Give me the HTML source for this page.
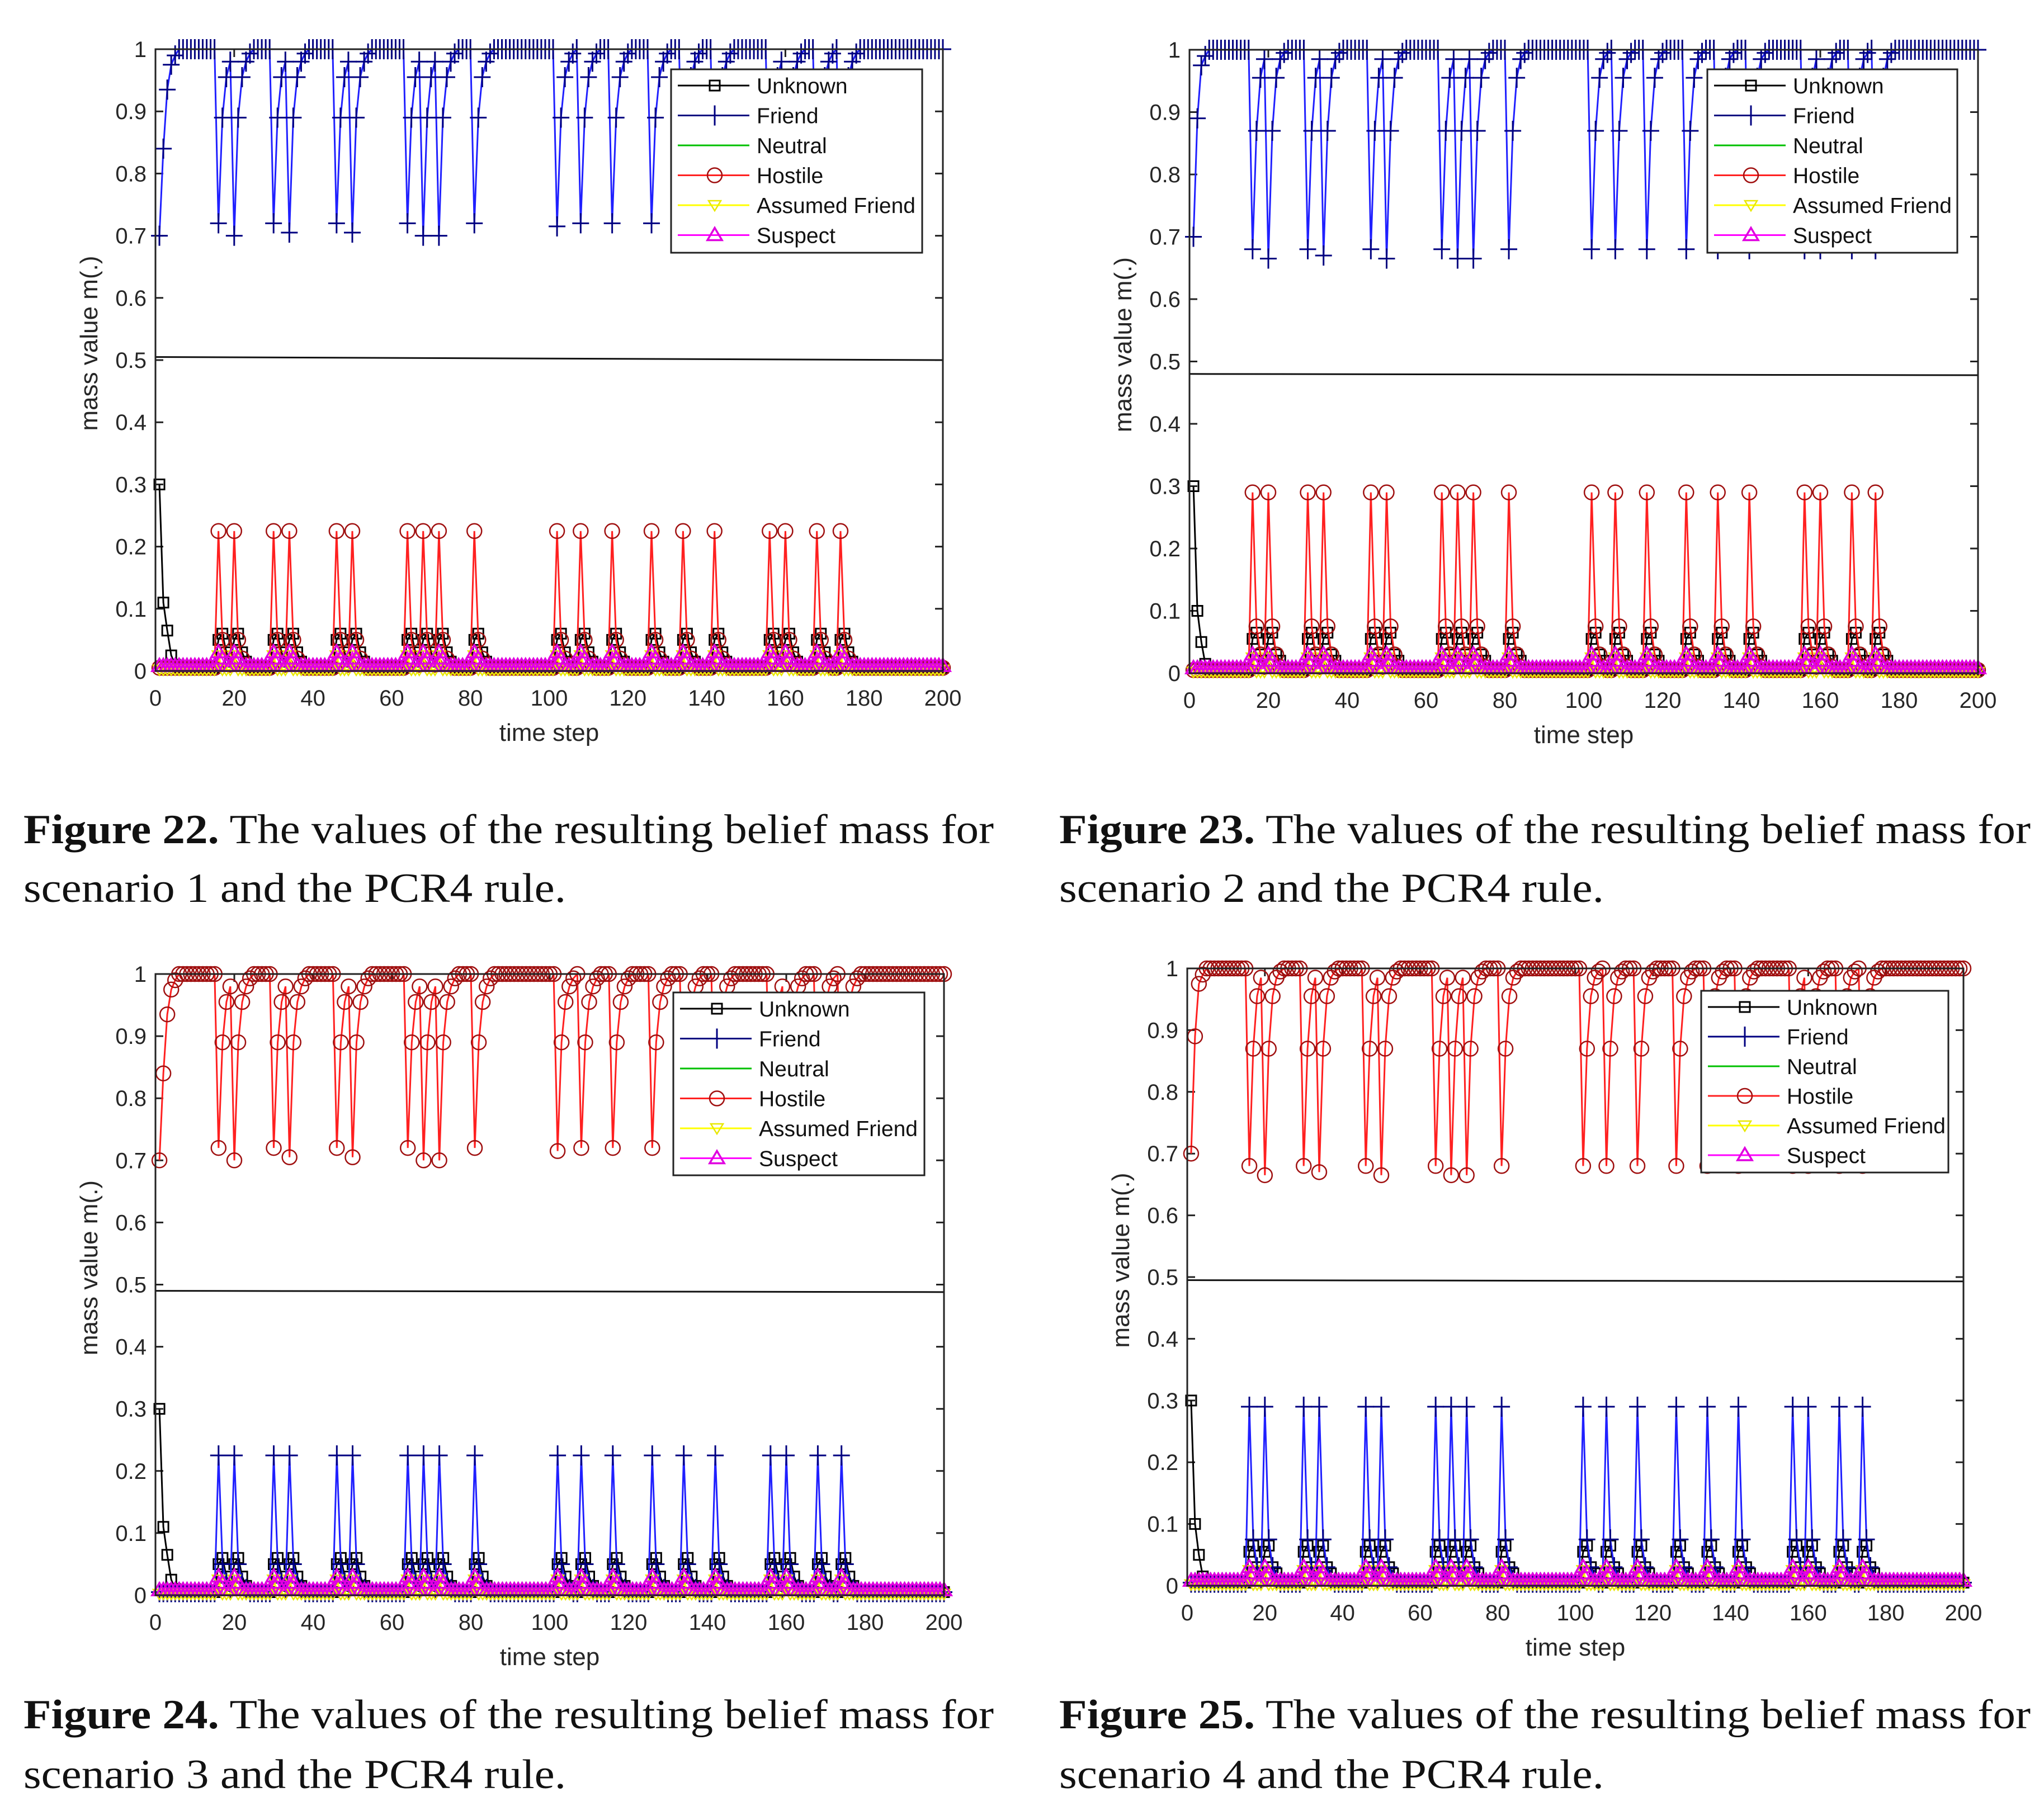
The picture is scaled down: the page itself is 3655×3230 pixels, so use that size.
<!DOCTYPE html>
<html><head><meta charset="utf-8">
<style>
html,body{margin:0;padding:0;background:#fff;}
svg{display:block;}
.tick{font-family:"Liberation Sans",sans-serif;font-size:40px;fill:#262626;}
.lab{font-family:"Liberation Sans",sans-serif;font-size:44px;fill:#262626;}
.leg{font-family:"Liberation Sans",sans-serif;font-size:39px;fill:#111;}
.cap{font-family:"Liberation Serif",serif;font-size:74px;fill:#111;}
</style></head>
<body>
<svg id="root" xmlns="http://www.w3.org/2000/svg" width="3655" height="3230" viewBox="0 0 3655 3230">
<rect width="3655" height="3230" fill="#fff"/>
<g>
<text class="cap" x="42" y="1508" textLength="1735" lengthAdjust="spacingAndGlyphs"><tspan font-weight="bold">Figure 22.</tspan> The values of the resulting belief mass for</text>
<text class="cap" x="42" y="1613" textLength="970" lengthAdjust="spacingAndGlyphs">scenario 1 and the PCR4 rule.</text></g>
<g>
<text class="cap" x="1894" y="1508" textLength="1737" lengthAdjust="spacingAndGlyphs"><tspan font-weight="bold">Figure 23.</tspan> The values of the resulting belief mass for</text>
<text class="cap" x="1894" y="1613" textLength="974" lengthAdjust="spacingAndGlyphs">scenario 2 and the PCR4 rule.</text></g>
<g>
<text class="cap" x="42" y="3091" textLength="1735" lengthAdjust="spacingAndGlyphs"><tspan font-weight="bold">Figure 24.</tspan> The values of the resulting belief mass for</text>
<text class="cap" x="42" y="3198" textLength="970" lengthAdjust="spacingAndGlyphs">scenario 3 and the PCR4 rule.</text></g>
<g>
<text class="cap" x="1894" y="3091" textLength="1737" lengthAdjust="spacingAndGlyphs"><tspan font-weight="bold">Figure 25.</tspan> The values of the resulting belief mass for</text>
<text class="cap" x="1894" y="3198" textLength="974" lengthAdjust="spacingAndGlyphs">scenario 4 and the PCR4 rule.</text></g>
</svg>
<script>
// ---- data ----
const xTicks=[0,20,40,60,80,100,120,140,160,180,200];
const yTicks=[0,0.1,0.2,0.3,0.4,0.5,0.6,0.7,0.8,0.9,1];
const yTickLabels=["0","0.1","0.2","0.3","0.4","0.5","0.6","0.7","0.8","0.9","1"];
const seriesNames=["Unknown","Friend","Neutral","Hostile","Assumed Friend","Suspect"];
const eventTimes=[16,20,30,34,46,50,64,68,72,81,102,108,116,126,134,142,156,160,168,174];
// scenario 1 (friend dominant)
const s1MainStart=[0.70,0.84,0.935,0.975,0.99];
const s1MainDip=[0.72,0.70,0.72,0.705,0.72,0.705,0.72,0.70,0.70,0.72,0.715,0.72,0.72,0.72,0.72,0.72,0.72,0.72,0.72,0.72];
const s1MainRecover=[0.89,0.955,0.98,0.993];
const s1Peak=[0.225,0.05,0.02,0.01];
const s1UnknownStart=[0.30,0.11,0.065,0.025,0.01];
const s1UnknownEvent=[0.05,0.06,0.03,0.015];
const s1Level=[0.505,0.5];
// scenario 2
const s2MainStart=[0.70,0.89,0.975,0.99];
const s2MainDip=[0.68,0.665,0.68,0.67,0.68,0.665,0.68,0.665,0.665,0.68,0.68,0.68,0.68,0.68,0.68,0.68,0.68,0.68,0.68,0.68];
const s2MainRecover=[0.87,0.955,0.985,0.995];
const s2Peak=[0.29,0.075,0.03,0.01];
const s2UnknownStart=[0.30,0.10,0.05,0.015];
const s2UnknownEvent=[0.055,0.065,0.03,0.02];
const s2Level=[0.48,0.478];
// scenario 3 (hostile dominant)
const s3MainStart=[0.70,0.84,0.935,0.975,0.99];
const s3MainDip=[0.72,0.70,0.72,0.705,0.72,0.705,0.72,0.70,0.70,0.72,0.715,0.72,0.72,0.72,0.72,0.72,0.72,0.72,0.72,0.72];
const s3MainRecover=[0.89,0.955,0.98,0.993];
const s3Peak=[0.225,0.05,0.02,0.01];
const s3UnknownStart=[0.30,0.11,0.065,0.025,0.01];
const s3UnknownEvent=[0.05,0.06,0.03,0.015];
const s3Level=[0.49,0.488];
// scenario 4
const s4MainStart=[0.70,0.89,0.975,0.99];
const s4MainDip=[0.68,0.665,0.68,0.67,0.68,0.665,0.68,0.665,0.665,0.68,0.68,0.68,0.68,0.68,0.68,0.68,0.68,0.68,0.68,0.68];
const s4MainRecover=[0.87,0.955,0.985,0.995];
const s4Peak=[0.29,0.075,0.03,0.01];
const s4UnknownStart=[0.30,0.10,0.05,0.015];
const s4UnknownEvent=[0.055,0.065,0.03,0.02];
const s4Level=[0.495,0.493];
const suspectBase=[0.008];
const suspectBump=[0.03,0.02];
const afBase=[0.002];
const afBump=[0.025];

const NS="http://www.w3.org/2000/svg";
const root=document.getElementById('root');
function mk(tag,attrs,parent){const e=document.createElementNS(NS,tag);for(const k in attrs)e.setAttribute(k,attrs[k]);parent.appendChild(e);return e;}
function build(mainStart,dips,recover){const v=[];for(let t=1;t<=200;t++)v.push(1);
 mainStart.forEach((x,i)=>v[i]=x);
 eventTimes.forEach((e,k)=>{v[e-1]=dips[k];recover.forEach((r,j)=>{if(e+j<200&&!eventTimes.includes(e+1+j))v[e+j]=Math.min(v[e+j],r);});});return v;}
function buildPeak(peak,start){const v=[];for(let t=1;t<=200;t++)v.push(0.005);
 if(start)start.forEach((x,i)=>v[i]=x);
 eventTimes.forEach(e=>{peak.forEach((p,j)=>{if(e-1+j<200)v[e-1+j]=Math.max(j===0?0:v[e-1+j],p);});});return v;}
function buildLow(base,bump){const v=[];for(let t=1;t<=200;t++)v.push(base[0]);
 eventTimes.forEach(e=>{bump.forEach((b,j)=>{v[e-1+j]=b;});});return v;}

function marker(g,type,x,y,color){
 if(type==='s')mk('rect',{x:x-9,y:y-9,width:18,height:18,fill:'none',stroke:color,'stroke-width':3},g);
 else if(type==='+'){mk('path',{d:`M${x-15} ${y}H${x+15}M${x} ${y-18}V${y+18}`,stroke:color,'stroke-width':3,fill:'none'},g);}
 else if(type==='o')mk('circle',{cx:x,cy:y,r:13,fill:'none',stroke:color,'stroke-width':2.5},g);
 else if(type==='v')mk('path',{d:`M${x-11} ${y-8}L${x+11} ${y-8}L${x} ${y+10}Z`,fill:'none',stroke:color,'stroke-width':2.5},g);
 else if(type==='^')mk('path',{d:`M${x-13} ${y+9}L${x+13} ${y+9}L${x} ${y-13}Z`,fill:'none',stroke:color,'stroke-width':3.5},g);
}

function chart(cfg,idx){
 const g=mk('g',{},root);
 
 
 const {l,r,t,b}=cfg;
 const X=v=>l+(r-l)*v/200, Y=v=>b-(b-t)*v;
 const ax=mk('g',{},g);
 
 
 yTicks.forEach((v,i)=>{const y=Y(v);
  mk('path',{d:`M${l} ${y}h14M${r} ${y}h-14`,stroke:'#222','stroke-width':3},ax);
  const tx=mk('text',{x:l-16,y:y+14,'text-anchor':'end',class:'tick'},ax);tx.textContent=yTickLabels[i];
  
  });
 xTicks.forEach(v=>{const x=X(v);
  mk('path',{d:`M${x} ${b}v-14M${x} ${t}v14`,stroke:'#222','stroke-width':3},ax);
  const tx=mk('text',{x:x,y:b+62,'text-anchor':'middle',class:'tick'},ax);tx.textContent=v;
  
  });
 const xt=mk('text',{x:(l+r)/2,y:b+125,'text-anchor':'middle',class:'lab'},g);xt.textContent='time step';
 
 
 const yt=mk('text',{x:0,y:0,'text-anchor':'middle',class:'lab',transform:`translate(${l-104},${(t+b)/2-30}) rotate(-90)`},g);yt.textContent='mass value m(.)';
 
 
 const lv=mk('line',{x1:X(0),y1:Y(cfg.level[0]),x2:X(200),y2:Y(cfg.level[1]),stroke:'#111','stroke-width':3},g);
 
 
 const series=[
  {name:'Unknown',v:cfg.unknown,c:'#000',mc:'#000',m:'s'},
  {name:'Friend',v:cfg.friend,c:'#2020ff',mc:'#000080',m:'+'},
  {name:'Neutral',v:cfg.neutral,c:'#00c000',mc:'#00c000',m:null},
  {name:'Hostile',v:cfg.hostile,c:'#ff2020',mc:'#a01010',m:'o'},
  {name:'Assumed Friend',v:cfg.af,c:'#ffff00',mc:'#e8e800',m:'v'},
  {name:'Suspect',v:cfg.suspect,c:'#ff00ff',mc:'#e000e0',m:'^'}];
 series.forEach(s=>{
  const sg=mk('g',{},g);
  
  
  const pts=s.v.map((v,i)=>X(i+1).toFixed(1)+','+Y(v).toFixed(1)).join(' ');
  mk('polyline',{points:pts,fill:'none',stroke:s.c,'stroke-width':3},sg);
  if(s.m)s.v.forEach((v,i)=>marker(sg,s.m,X(i+1),Y(v),s.mc));
 });
 mk('rect',{x:l,y:t,width:r-l,height:b-t,fill:'none',stroke:'#222','stroke-width':3},g);
 const lg=mk('g',{},g);
 
 
 const L=cfg.leg;
 mk('rect',{x:L.x,y:L.y,width:L.w,height:L.h,fill:'#fff',stroke:'#222','stroke-width':3},lg);
 series.forEach((s,i)=>{const cy=L.y+29+i*L.dy;
  const e=mk('g',{},lg);
  
  
  mk('line',{x1:L.x+12,y1:cy,x2:L.x+140,y2:cy,stroke:s.c==='#2020ff'?'#000080':s.c,'stroke-width':3},e);
  if(s.m)marker(e,s.m,L.x+78,cy,s.mc);
  const tx=mk('text',{x:L.x+153,y:cy+14,class:'leg'},e);tx.textContent=s.name;});
}
const zeros=new Array(200).fill(0);
const cfgs=[
 {fig:22,l:278,r:1686,t:88,b:1200,level:s1Level,friend:build(s1MainStart,s1MainDip,s1MainRecover),hostile:buildPeak(s1Peak),unknown:buildPeak(s1UnknownEvent,s1UnknownStart),
  leg:{x:1200,y:124,w:449,h:328,dy:53.5}},
 {fig:23,l:2127,r:3537,t:89,b:1204,level:s2Level,friend:build(s2MainStart,s2MainDip,s2MainRecover),hostile:buildPeak(s2Peak),unknown:buildPeak(s2UnknownEvent,s2UnknownStart),
  leg:{x:3053,y:124,w:447,h:328,dy:53.5}},
 {fig:24,l:278,r:1688,t:1742,b:2853,level:s3Level,hostile:build(s3MainStart,s3MainDip,s3MainRecover),friend:buildPeak(s3Peak),unknown:buildPeak(s3UnknownEvent,s3UnknownStart),
  leg:{x:1204,y:1775,w:449,h:327,dy:53.5}},
 {fig:25,l:2123,r:3511,t:1732,b:2836,level:s4Level,hostile:build(s4MainStart,s4MainDip,s4MainRecover),friend:buildPeak(s4Peak),unknown:buildPeak(s4UnknownEvent,s4UnknownStart),
  leg:{x:3042,y:1772,w:442,h:325,dy:53}}];
cfgs.forEach((c,i)=>{c.neutral=zeros;c.af=buildLow(afBase,afBump);c.suspect=buildLow(suspectBase,suspectBump);chart(c,i);});
</script>
</body></html>
